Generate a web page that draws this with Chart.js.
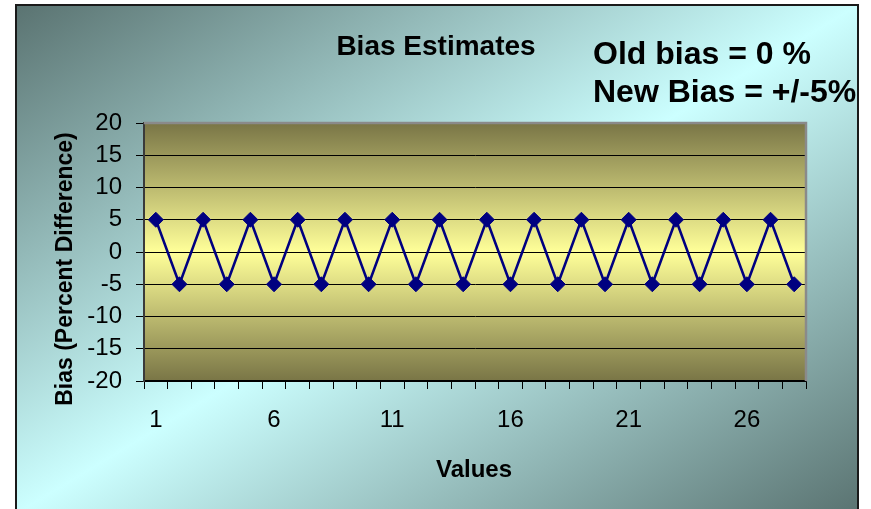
<!DOCTYPE html>
<html>
<head>
<meta charset="utf-8">
<script src="https://cdn.jsdelivr.net/npm/chart.js@4.4.1/dist/chart.umd.min.js"></script>
<style>
  html, body { margin: 0; padding: 0; background: #fff; }
  canvas { display: block; }
</style>
</head>
<body>
<canvas id="chart" width="871" height="509"></canvas>
<script>
// Sample index along the x axis
const categories = [1, 2, 3, 4, 5, 6, 7, 8, 9, 10, 11, 12, 13, 14,
                    15, 16, 17, 18, 19, 20, 21, 22, 23, 24, 25, 26, 27, 28];
// Bias of each value, percent difference
const biasValues = [5, -5, 5, -5, 5, -5, 5, -5, 5, -5, 5, -5, 5, -5,
                    5, -5, 5, -5, 5, -5, 5, -5, 5, -5, 5, -5, 5, -5];
// Category labels written under the axis
const shownXLabels = [1, 6, 11, 16, 21, 26];
// Value axis range and step
const yRange = [-20, 20];
const yStep = 5;

const chartTitle = 'Bias Estimates';
const noteLines = ['Old bias = 0 %', 'New Bias = +/-5%'];
const xTitle = 'Values';
const yTitle = 'Bias (Percent Difference)';

const FONT = "'Liberation Sans', Arial, Helvetica, sans-serif";
Chart.defaults.font.family = FONT;
Chart.defaults.color = '#000';

const frame = {
  id: 'frame',
  beforeDraw(chart) {
    const { ctx, width, height, chartArea: a } = chart;
    ctx.save();
    ctx.fillStyle = '#fff';
    ctx.fillRect(0, 0, width, height);

    // outer panel: dark corners top-left / bottom-right, light across the other diagonal
    const L = 16, T = 5, R = 858, B = 514;
    const W = R - L, H = B - T;
    const k = 2 * W * H / (W * W + H * H);
    const g = ctx.createLinearGradient(L, T, L + k * H, T + k * W);
    g.addColorStop(0, '#5a7371');
    g.addColorStop(0.5, '#ccffff');
    g.addColorStop(1, '#5a7371');
    ctx.fillStyle = g;
    ctx.fillRect(L, T, W, H);
    ctx.strokeStyle = '#1a1a1a';
    ctx.lineWidth = 2;
    ctx.strokeRect(L, T, W, H);

    // plot area: olive at top and bottom, pale yellow in the middle
    const pg = ctx.createLinearGradient(0, a.top, 0, a.bottom);
    pg.addColorStop(0, '#797546');
    pg.addColorStop(0.5, '#ffff99');
    pg.addColorStop(1, '#797546');
    ctx.fillStyle = pg;
    ctx.fillRect(a.left, a.top, a.right - a.left, a.bottom - a.top);
    ctx.restore();
  },
  afterDraw(chart) {
    const { ctx, chartArea: a } = chart;
    ctx.save();
    // grey frame on the top and right of the plot area
    ctx.strokeStyle = '#8a8a8a';
    ctx.lineWidth = 2.5;
    ctx.beginPath();
    ctx.moveTo(a.left, a.top);
    ctx.lineTo(a.right, a.top);
    ctx.lineTo(a.right, a.bottom);
    ctx.stroke();

    ctx.fillStyle = '#000';
    ctx.textBaseline = 'alphabetic';

    ctx.font = `bold 28px ${FONT}`;
    ctx.textAlign = 'center';
    ctx.fillText(chartTitle, 436, 55);

    ctx.font = `bold 32px ${FONT}`;
    ctx.textAlign = 'left';
    ctx.fillText(noteLines[0], 593, 64);
    ctx.fillText(noteLines[1], 593, 102);

    ctx.font = `bold 24px ${FONT}`;
    ctx.textAlign = 'center';
    ctx.fillText(xTitle, 474, 477);

    ctx.font = `bold 23px ${FONT}`;
    ctx.translate(72, 269);
    ctx.rotate(-Math.PI / 2);
    ctx.fillText(yTitle, 0, 0);
    ctx.restore();
  }
};

new Chart(document.getElementById('chart'), {
  type: 'line',
  data: {
    labels: categories,
    datasets: [{
      data: biasValues,
      borderColor: '#000080',
      backgroundColor: '#000080',
      borderWidth: 2.5,
      tension: 0,
      pointStyle: 'rectRot',
      pointRadius: 7.5,
      pointBorderWidth: 1,
      pointBackgroundColor: '#000080',
      pointBorderColor: '#000080',
      clip: false
    }]
  },
  options: {
    responsive: false,
    animation: false,
    devicePixelRatio: 1,
    layout: { padding: { left: 16, top: 123, right: 65, bottom: 0 } },
    plugins: { legend: { display: false }, tooltip: { enabled: false }, title: { display: false } },
    scales: {
      x: {
        type: 'category',
        offset: true,
        grid: { display: true, drawOnChartArea: false, drawTicks: true, tickLength: 8, color: '#000', lineWidth: 1, offset: true },
        border: { display: true, color: '#000', width: 1.5 },
        ticks: {
          autoSkip: false, maxRotation: 0, minRotation: 0, padding: 17,
          color: '#000', font: { size: 24 },
          callback: (v, i) => shownXLabels.includes(categories[i]) ? String(categories[i]) : ''
        },
        afterFit(scale) { scale.height = 128; }
      },
      y: {
        min: yRange[0],
        max: yRange[1],
        ticks: { stepSize: yStep, padding: 14, color: '#000', font: { size: 24 } },
        grid: { color: '#000', lineWidth: 1, tickLength: 8 },
        border: { display: true, color: '#3a3a3a', width: 2 },
        afterFit(scale) { scale.width = 128; }
      }
    }
  },
  plugins: [frame]
});
</script>
</body>
</html>
